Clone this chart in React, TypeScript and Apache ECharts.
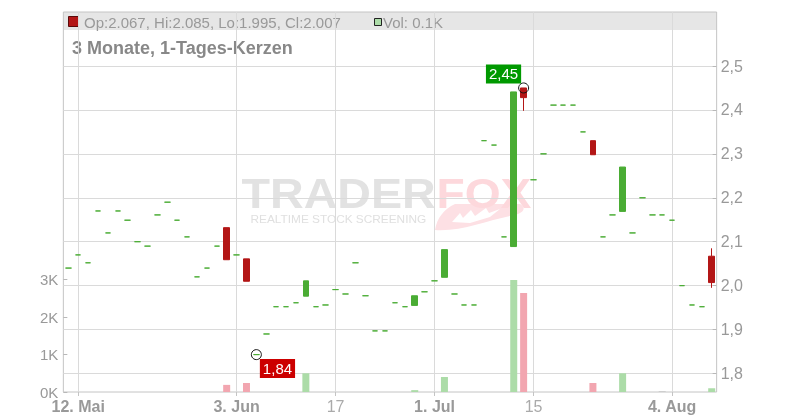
import React, { useEffect, useRef } from 'react';
import * as echarts from 'echarts';

// ---- data ----
const dates = [
  '2025-05-09',
  '2025-05-12', '2025-05-13', '2025-05-14', '2025-05-15', '2025-05-16',
  '2025-05-19', '2025-05-20', '2025-05-21', '2025-05-22', '2025-05-23',
  '2025-05-26', '2025-05-27', '2025-05-28', '2025-05-29', '2025-05-30',
  '2025-06-02', '2025-06-03', '2025-06-04', '2025-06-05', '2025-06-06',
  '2025-06-09', '2025-06-10', '2025-06-11', '2025-06-12', '2025-06-13',
  '2025-06-16', '2025-06-17', '2025-06-18', '2025-06-19', '2025-06-20',
  '2025-06-23', '2025-06-24', '2025-06-25', '2025-06-26', '2025-06-27',
  '2025-06-30', '2025-07-01', '2025-07-02', '2025-07-03', '2025-07-04',
  '2025-07-07', '2025-07-08', '2025-07-09', '2025-07-10', '2025-07-11',
  '2025-07-14', '2025-07-15', '2025-07-16', '2025-07-17', '2025-07-18',
  '2025-07-21', '2025-07-22', '2025-07-23', '2025-07-24', '2025-07-25',
  '2025-07-28', '2025-07-29', '2025-07-30', '2025-07-31', '2025-08-01',
  '2025-08-04', '2025-08-05', '2025-08-06', '2025-08-07', '2025-08-08',
];

const opens = [
  2.040, 2.070, 2.052, 2.170, 2.120, 2.170, 2.149, 2.100, 2.090, 2.161,
  2.190, 2.149, 2.111, 2.020, 2.040, 2.090, 2.132, 2.070, 2.061, 1.843,
  1.890, 1.952, 1.952, 1.961, 1.976, 1.952, 1.956, 1.991, 1.981, 2.052,
  1.977, 1.897, 1.897, 1.961, 1.952, 1.955, 1.986, 2.011, 2.019, 1.981,
  1.956, 1.956, 2.330, 2.320, 2.111, 2.089, 2.450, 2.241, 2.300, 2.411,
  2.411, 2.411, 2.350, 2.330, 2.111, 2.161, 2.169, 2.120, 2.200, 2.161,
  2.161, 2.149, 2.000, 1.956, 1.952, 2.067,
];

const closes = [
  2.040, 2.070, 2.052, 2.170, 2.120, 2.170, 2.149, 2.100, 2.090, 2.161,
  2.190, 2.149, 2.111, 2.020, 2.040, 2.090, 2.059, 2.070, 2.010, 1.843,
  1.890, 1.952, 1.952, 1.961, 2.011, 1.952, 1.956, 1.991, 1.981, 2.052,
  1.977, 1.897, 1.897, 1.961, 1.952, 1.977, 1.986, 2.011, 2.082, 1.981,
  1.956, 1.956, 2.330, 2.320, 2.111, 2.441, 2.428, 2.241, 2.300, 2.411,
  2.411, 2.411, 2.350, 2.298, 2.111, 2.161, 2.270, 2.120, 2.200, 2.161,
  2.161, 2.149, 2.000, 1.956, 1.952, 2.007,
];

const highs = [
  2.040, 2.070, 2.052, 2.170, 2.120, 2.170, 2.149, 2.100, 2.090, 2.161,
  2.190, 2.149, 2.111, 2.020, 2.040, 2.090, 2.132, 2.070, 2.061, 1.843,
  1.890, 1.952, 1.952, 1.961, 2.011, 1.952, 1.956, 1.991, 1.981, 2.052,
  1.977, 1.897, 1.897, 1.961, 1.952, 1.977, 1.986, 2.011, 2.082, 1.981,
  1.956, 1.956, 2.330, 2.320, 2.111, 2.441, 2.450, 2.241, 2.300, 2.411,
  2.411, 2.411, 2.350, 2.330, 2.111, 2.161, 2.270, 2.120, 2.200, 2.161,
  2.161, 2.149, 2.000, 1.956, 1.952, 2.085,
];

const lows = [
  2.040, 2.070, 2.052, 2.170, 2.120, 2.170, 2.149, 2.100, 2.090, 2.161,
  2.190, 2.149, 2.111, 2.020, 2.040, 2.090, 2.059, 2.070, 2.010, 1.843,
  1.890, 1.952, 1.952, 1.961, 1.976, 1.952, 1.956, 1.991, 1.981, 2.052,
  1.977, 1.897, 1.897, 1.961, 1.952, 1.955, 1.986, 2.011, 2.019, 1.981,
  1.956, 1.956, 2.330, 2.320, 2.111, 2.089, 2.398, 2.241, 2.300, 2.411,
  2.411, 2.411, 2.350, 2.298, 2.111, 2.161, 2.169, 2.120, 2.200, 2.161,
  2.161, 2.149, 2.000, 1.956, 1.952, 1.995,
];

const volumes = [
  0, 0, 0, 0, 0, 0, 0, 0, 0, 0,
  0, 0, 0, 0, 0, 0, 190, 0, 240, 0,
  0, 0, 0, 0, 500, 0, 0, 0, 0, 0,
  0, 0, 0, 0, 0, 50, 0, 0, 400, 0,
  0, 0, 0, 0, 0, 2990, 2640, 0, 0, 0,
  0, 0, 0, 240, 0, 0, 500, 0, 0, 0,
  20, 0, 0, 0, 0, 100,
];

const tickDates = ['2025-05-12', '2025-06-03', '2025-06-17', '2025-07-01', '2025-07-15', '2025-08-04'];
const tickLabels = ['12. Mai', '3. Jun', '17', '1. Jul', '15', '4. Aug'];
const tickBold = [true, true, false, true, false, true];

const volumeTicks = [0, 1000, 2000, 3000];
const titleText = '3 Monate, 1-Tages-Kerzen';

// ---- style ----
const FONT = '"Liberation Sans", Arial, Helvetica, sans-serif';
const UP = '#4aac34';
const DOWN = '#b31616';
const VOL_UP = '#acdca8';
const VOL_DOWN = '#f2a6b0';
const VOL_FLAT = '#c8c8c8';
const GRID_LINE = '#dadada';
const FRAME = '#c4c4c4';
const LABEL = '#999';

const L = 63.35;
const R = 83.35;
const PMIN = 1.7579;
const PMAX = 2.58195;

echarts.graphic.registerShape(
  'foxTail',
  echarts.graphic.extendPath(
    'M435,230 C437,218 444,209 455,204 L520,204 C527,208 523,213 515,215 C490,219 462,232 435,230 Z',
    {}
  )
);

const fmtPrice = (v: number) => {
  const r = Math.round(v * 10) / 10;
  return Math.abs(v - r) < 1e-6 ? r.toFixed(1).replace('.', ',') : '';
};

export default function App() {
  const ref = useRef<HTMLDivElement>(null);

  useEffect(() => {
    document.body.style.margin = '0';
    const chart = echarts.init(ref.current!, null, { renderer: 'svg' });

    const isTick = (_i: number, v: string) => tickDates.indexOf(v) >= 0;
    const last = dates.length - 1;

    const candleData = dates.map((_, i) => [opens[i], closes[i], lows[i], highs[i]]);
    const volData = volumes.map((v, i) => {
      const prev = i > 0 ? closes[i - 1] : closes[i];
      const c = closes[i] > prev ? VOL_UP : closes[i] < prev ? VOL_DOWN : VOL_FLAT;
      return { value: v, itemStyle: { color: c } };
    });

    let maxI = 0;
    let minI = 0;
    highs.forEach((h, i) => { if (h > highs[maxI]) maxI = i; });
    lows.forEach((l, i) => { if (l < lows[minI]) minI = i; });

    const labelBase = {
      show: true,
      color: '#fff',
      fontSize: 15,
      lineHeight: 15,
      padding: [2, 3, 2, 3],
      fontFamily: FONT,
      opacity: 1,
    };
    const extremes = [
      {
        value: [maxI, highs[maxI]],
        label: {
          ...labelBase,
          formatter: highs[maxI].toFixed(2).replace('.', ','),
          backgroundColor: '#009900',
          position: [3, 1],
          align: 'right',
          verticalAlign: 'bottom',
        },
      },
      {
        value: [minI, lows[minI]],
        label: {
          ...labelBase,
          formatter: lows[minI].toFixed(2).replace('.', ','),
          backgroundColor: '#cc0000',
          position: [9, 10],
          align: 'left',
          verticalAlign: 'top',
        },
      },
    ];

    const legendText =
      `Op:${opens[last].toFixed(3)}, Hi:${highs[last].toFixed(3)}, ` +
      `Lo:${lows[last].toFixed(3)}, Cl:${closes[last].toFixed(3)}`;
    const volText = `Vol: ${(volumes[last] / 1000).toFixed(1)}K`;
    const lastDown = closes[last] < opens[last];
    const lastVolUp = closes[last] >= closes[last - 1];

    const option: any = {
      animation: false,
      textStyle: { fontFamily: FONT },
      grid: [
        { left: L, right: R, top: 12, bottom: 28, show: true, borderColor: FRAME, borderWidth: 1, backgroundColor: 'transparent' },
        { left: L, right: R, top: 30, bottom: 28 },
        { left: L, right: R, top: 279.5, bottom: 28 },
      ],
      xAxis: [
        {
          gridIndex: 0,
          type: 'category',
          data: dates,
          boundaryGap: true,
          axisLine: { show: false },
          axisTick: { show: true, interval: isTick, alignWithLabel: true, length: 4, lineStyle: { color: FRAME } },
          axisLabel: {
            interval: isTick,
            margin: 6,
            formatter: (v: string) => {
              const k = tickDates.indexOf(v);
              return tickBold[k] ? `{b|${tickLabels[k]}}` : `{n|${tickLabels[k]}}`;
            },
            rich: {
              b: { fontSize: 16, fontWeight: 'bold', color: LABEL, fontFamily: FONT },
              n: { fontSize: 16, color: '#aaa', fontFamily: FONT },
            },
          },
          splitLine: { show: true, interval: isTick, alignWithLabel: true, lineStyle: { color: GRID_LINE, width: 1 } },
        },
        { gridIndex: 1, type: 'category', data: dates, show: false },
        { gridIndex: 2, type: 'category', data: dates, show: false },
      ],
      yAxis: [
        { gridIndex: 0, type: 'value', show: false },
        {
          gridIndex: 1,
          type: 'value',
          position: 'right',
          min: PMIN,
          max: PMAX,
          minInterval: 0.1,
          maxInterval: 0.1,
          splitNumber: 8,
          axisLine: { show: false },
          axisTick: { show: true, inside: true, length: 4, lineStyle: { color: '#b8b8b8' } },
          axisLabel: { formatter: fmtPrice, color: LABEL, fontSize: 16, margin: 4, showMinLabel: false, showMaxLabel: false },
          splitLine: { show: true, showMinLine: false, showMaxLine: false, lineStyle: { color: GRID_LINE, width: 1 } },
        },
        {
          gridIndex: 2,
          type: 'value',
          position: 'left',
          min: volumeTicks[0],
          max: volumeTicks[volumeTicks.length - 1],
          interval: volumeTicks[1] - volumeTicks[0],
          axisLine: { show: false },
          axisTick: { show: true, inside: true, length: 4, lineStyle: { color: '#b8b8b8' } },
          axisLabel: { formatter: (v: number) => `${v / 1000}K`, color: LABEL, fontSize: 15, margin: 5 },
          splitLine: { show: false },
        },
      ],
      series: [
        {
          type: 'bar',
          xAxisIndex: 2,
          yAxisIndex: 2,
          data: volData,
          barWidth: 7,
          silent: true,
        },
        {
          type: 'candlestick',
          xAxisIndex: 1,
          yAxisIndex: 1,
          data: candleData,
          barWidth: 6,
          silent: true,
          itemStyle: {
            color: UP,
            color0: DOWN,
            borderColor: UP,
            borderColor0: DOWN,
            borderColorDoji: UP,
            borderWidth: 1,
          },
        },
        {
          type: 'scatter',
          xAxisIndex: 1,
          yAxisIndex: 1,
          data: extremes,
          symbol: 'circle',
          symbolSize: 10,
          silent: true,
          z: 5,
          itemStyle: { color: 'rgba(255,255,255,0)', borderColor: '#111', borderWidth: 1, opacity: 1 },
        },
      ],
      graphic: [
        // legend band
        { type: 'rect', z: -10, silent: true, shape: { x: L, y: 12, width: 800 - L - R, height: 18 }, style: { fill: '#e6e6e6' } },
        // watermark
        { type: 'foxTail', z: -9, silent: true, x: 0, y: 0, style: { fill: '#fde0e4' } },
        {
          type: 'polygon', z: -9, silent: true,
          shape: { points: [[452, 222], [460, 213], [463, 218], [471, 210], [475, 216], [486, 208], [489, 213], [500, 209], [490, 217], [470, 223]] },
          style: { fill: '#ffffff' },
        },
        {
          type: 'text', z: -8, silent: true, x: 241.5, y: 193, scaleX: 1.11,
          style: { text: 'TRADER', fill: '#e2e2e2', fontSize: 42, fontWeight: 'bold', fontFamily: FONT, align: 'left', verticalAlign: 'middle' },
        },
        {
          type: 'text', z: -8, silent: true, x: 436.5, y: 193, scaleX: 1.1,
          style: { text: 'FOX', fill: '#fdd8dc', fontSize: 42, fontWeight: 'bold', fontFamily: FONT, align: 'left', verticalAlign: 'middle' },
        },
        {
          type: 'text', z: -8, silent: true, x: 250.5, y: 219, scaleX: 1.03,
          style: { text: 'REALTIME STOCK SCREENING', fill: '#e0e0e0', fontSize: 11.5, fontFamily: FONT, align: 'left', verticalAlign: 'middle' },
        },
        // legend
        {
          type: 'rect', silent: true, shape: { x: 68.5, y: 16.5, width: 10, height: 10 },
          style: { fill: lastDown ? DOWN : UP, stroke: '#5a0a0a', lineWidth: 1 },
        },
        {
          type: 'text', silent: true, x: 84, y: 22,
          style: { text: legendText, fill: LABEL, fontSize: 15, fontFamily: FONT, align: 'left', verticalAlign: 'middle' },
        },
        {
          type: 'rect', silent: true, shape: { x: 374.5, y: 18.5, width: 7, height: 7 },
          style: { fill: lastVolUp ? VOL_UP : VOL_DOWN, stroke: '#222', lineWidth: 1 },
        },
        {
          type: 'text', silent: true, x: 383, y: 22,
          style: { text: volText, fill: LABEL, fontSize: 15, fontFamily: FONT, align: 'left', verticalAlign: 'middle' },
        },
        // title
        {
          type: 'text', silent: true, x: 72, y: 48,
          style: { text: titleText, fill: '#888', fontSize: 18, fontWeight: 'bold', fontFamily: FONT, align: 'left', verticalAlign: 'middle' },
        },
      ],
    };

    chart.setOption(option);
    return () => chart.dispose();
  }, []);

  return <div ref={ref} style={{ position: 'fixed', left: 0, top: 0, width: 800, height: 420 }} />;
}
